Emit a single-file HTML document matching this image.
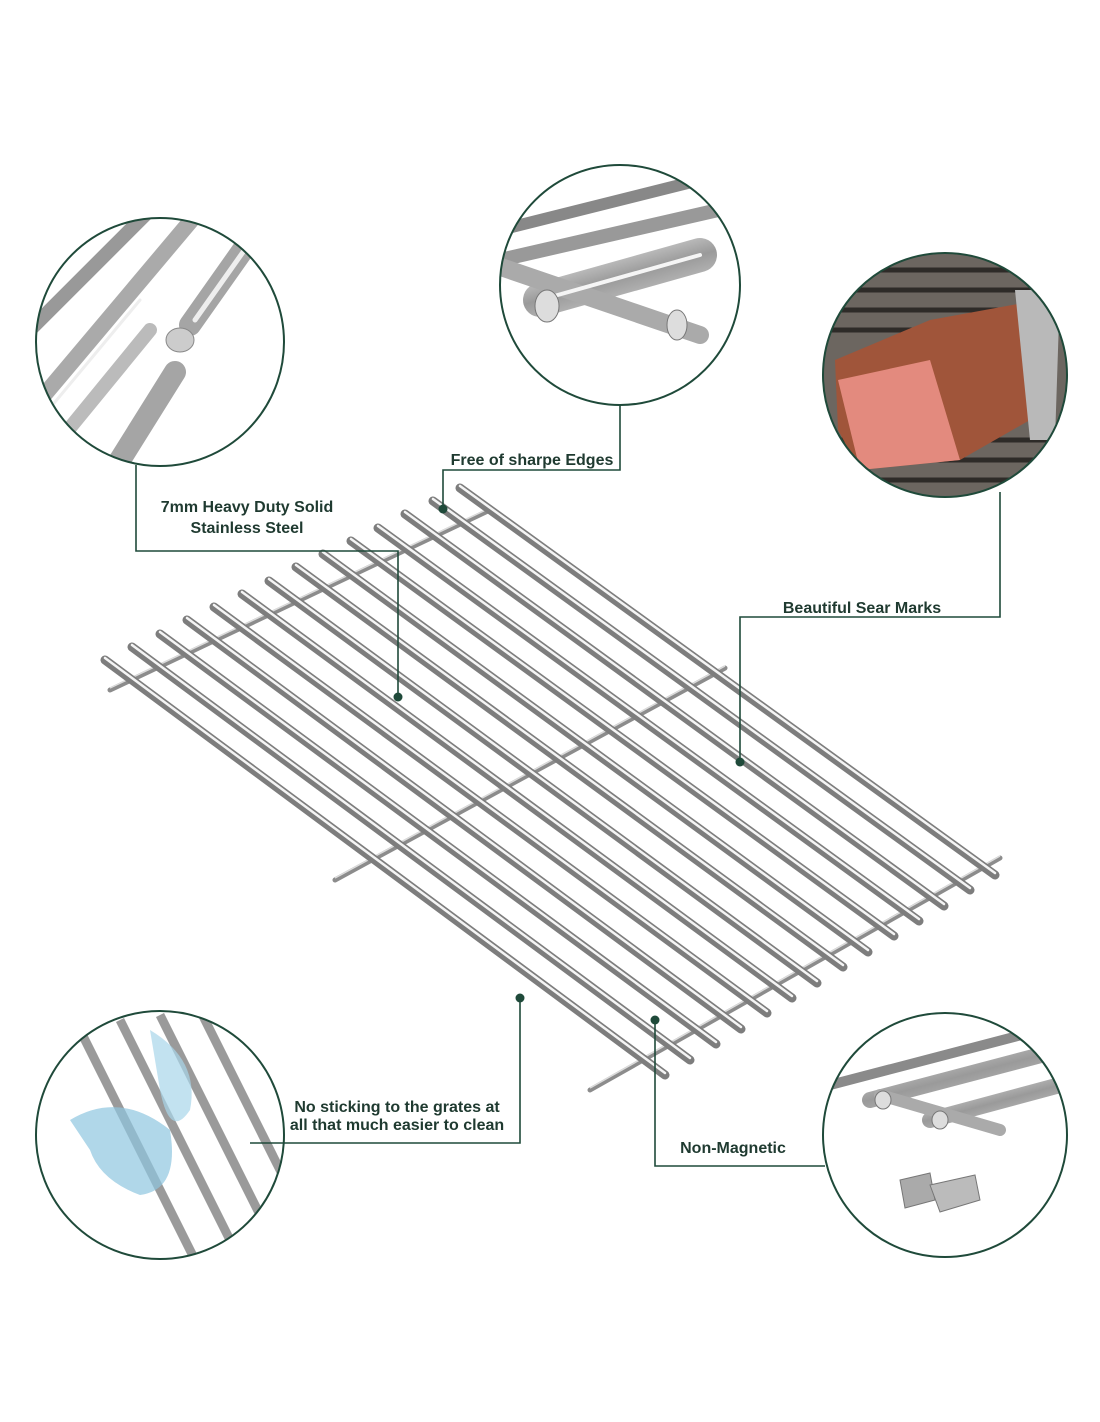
<!DOCTYPE html>
<html><head><meta charset="utf-8"><style>
html,body{margin:0;padding:0;background:#fff;}
svg{display:block}
text{font-family:"Liberation Sans",sans-serif;font-weight:bold;fill:#1f3a30;font-size:16px}
</style></head><body>
<svg width="1100" height="1422" viewBox="0 0 1100 1422" xmlns="http://www.w3.org/2000/svg">
<defs>
<linearGradient id="steel" x1="0" y1="0" x2="1" y2="1">
<stop offset="0" stop-color="#e8e8e8"/><stop offset="0.5" stop-color="#9a9a9a"/><stop offset="1" stop-color="#d0d0d0"/></linearGradient>
<clipPath id="c1"><circle cx="160" cy="342" r="124"/></clipPath>
<clipPath id="c2"><circle cx="620" cy="285" r="120"/></clipPath>
<clipPath id="c3"><circle cx="945" cy="375" r="122"/></clipPath>
<clipPath id="c4"><circle cx="160" cy="1135" r="124"/></clipPath>
<clipPath id="c5"><circle cx="945" cy="1135" r="122"/></clipPath>
</defs>

<!-- cross bars -->
<g stroke="#8c8c8c" stroke-width="5" stroke-linecap="round">
<line x1="110" y1="690" x2="490" y2="510"/>
<line x1="335" y1="880" x2="725" y2="668"/>
<line x1="590" y1="1090" x2="1000" y2="858"/>
</g>
<g stroke="#dcdcdc" stroke-width="1.5">
<line x1="110" y1="688" x2="490" y2="508"/>
<line x1="335" y1="878" x2="725" y2="666"/>
<line x1="590" y1="1088" x2="1000" y2="856"/>
</g>

<!-- rods -->
<g stroke-linecap="round">
<g stroke="#7d7d7d" stroke-width="9">
<line x1="105" y1="660" x2="665" y2="1075"/><line x1="132" y1="647" x2="690" y2="1060"/>
<line x1="160" y1="634" x2="716" y2="1044"/><line x1="187" y1="620" x2="741" y2="1029"/>
<line x1="214" y1="607" x2="767" y2="1013"/><line x1="242" y1="594" x2="792" y2="998"/>
<line x1="269" y1="581" x2="817" y2="983"/><line x1="296" y1="567" x2="843" y2="967"/>
<line x1="323" y1="554" x2="868" y2="952"/><line x1="351" y1="541" x2="894" y2="936"/>
<line x1="378" y1="528" x2="919" y2="921"/><line x1="405" y1="514" x2="944" y2="906"/>
<line x1="433" y1="501" x2="970" y2="890"/><line x1="460" y1="488" x2="995" y2="875"/>
</g>
<g stroke="#f4f4f4" stroke-width="2.5">
<line x1="105" y1="658" x2="665" y2="1073"/><line x1="132" y1="645" x2="690" y2="1058"/>
<line x1="160" y1="632" x2="716" y2="1042"/><line x1="187" y1="618" x2="741" y2="1027"/>
<line x1="214" y1="605" x2="767" y2="1011"/><line x1="242" y1="592" x2="792" y2="996"/>
<line x1="269" y1="579" x2="817" y2="981"/><line x1="296" y1="565" x2="843" y2="965"/>
<line x1="323" y1="552" x2="868" y2="950"/><line x1="351" y1="539" x2="894" y2="934"/>
<line x1="378" y1="526" x2="919" y2="919"/><line x1="405" y1="512" x2="944" y2="904"/>
<line x1="433" y1="499" x2="970" y2="888"/><line x1="460" y1="486" x2="995" y2="873"/>
</g>
</g>

<!-- circle 1: rods -->
<g clip-path="url(#c1)">
<rect x="30" y="210" width="260" height="265" fill="#fff"/>
<g stroke-linecap="round">
<line x1="30" y1="330" x2="160" y2="200" stroke="#999" stroke-width="14"/>
<line x1="40" y1="400" x2="200" y2="210" stroke="#aaa" stroke-width="16"/>
<line x1="60" y1="440" x2="150" y2="330" stroke="#bbb" stroke-width="14"/>
<line x1="190" y1="325" x2="250" y2="240" stroke="#a5a5a5" stroke-width="22"/>
<line x1="120" y1="460" x2="175" y2="372" stroke="#a5a5a5" stroke-width="22"/>
<line x1="40" y1="420" x2="140" y2="300" stroke="#eee" stroke-width="3"/>
<line x1="195" y1="320" x2="248" y2="245" stroke="#eee" stroke-width="5"/>
</g>
<ellipse cx="180" cy="340" rx="14" ry="12" fill="#ccc" stroke="#888"/>
</g>
<circle cx="160" cy="342" r="124" fill="none" stroke="#1f4a3a" stroke-width="2"/>

<!-- circle 2 -->
<g clip-path="url(#c2)">
<rect x="490" y="160" width="260" height="250" fill="#fff"/>
<g stroke-linecap="round">
<line x1="500" y1="230" x2="740" y2="170" stroke="#888" stroke-width="12"/>
<line x1="500" y1="260" x2="740" y2="205" stroke="#999" stroke-width="14"/>
<line x1="540" y1="300" x2="700" y2="255" stroke="url(#steel)" stroke-width="34"/>
<line x1="495" y1="265" x2="700" y2="335" stroke="#aaa" stroke-width="18"/>
<line x1="540" y1="300" x2="700" y2="255" stroke="#f5f5f5" stroke-width="4"/>
</g>
<ellipse cx="547" cy="306" rx="12" ry="16" fill="#ddd" stroke="#777"/>
<ellipse cx="677" cy="325" rx="10" ry="15" fill="#ddd" stroke="#777"/>
</g>
<circle cx="620" cy="285" r="120" fill="none" stroke="#1f4a3a" stroke-width="2"/>

<!-- circle 3: steak -->
<g clip-path="url(#c3)">
<rect x="820" y="250" width="250" height="250" fill="#6c6660"/>
<g stroke="#2e2b28" stroke-width="5">
<line x1="820" y1="270" x2="1070" y2="270"/><line x1="820" y1="290" x2="1070" y2="290"/>
<line x1="820" y1="310" x2="1070" y2="310"/><line x1="820" y1="330" x2="1070" y2="330"/>
<line x1="820" y1="440" x2="1070" y2="440"/><line x1="820" y1="460" x2="1070" y2="460"/>
<line x1="820" y1="480" x2="1070" y2="480"/>
</g>
<path d="M835 360 L930 320 L1040 300 L1030 420 L960 460 L860 470 L838 430 Z" fill="#a0553a"/>
<path d="M838 380 L930 360 L960 460 L860 470 Z" fill="#e38a7e"/>
<path d="M1015 290 L1060 290 L1055 440 L1030 440 Z" fill="#b9b9b9"/>
</g>
<circle cx="945" cy="375" r="122" fill="none" stroke="#1f4a3a" stroke-width="2"/>

<!-- circle 4 -->
<g clip-path="url(#c4)">
<rect x="30" y="1005" width="260" height="265" fill="#fff"/>
<g stroke="#9a9a9a" stroke-width="9">
<line x1="80" y1="1030" x2="200" y2="1270"/><line x1="120" y1="1020" x2="240" y2="1260"/>
<line x1="160" y1="1015" x2="280" y2="1255"/><line x1="200" y1="1010" x2="300" y2="1210"/>
</g>
<path d="M70 1120 Q120 1090 170 1130 Q180 1190 140 1195 Q100 1180 90 1150 Z" fill="#8fc6e0" opacity="0.7"/>
<path d="M150 1030 Q200 1060 190 1110 Q170 1140 160 1090 Z" fill="#a8d5ea" opacity="0.7"/>
</g>
<circle cx="160" cy="1135" r="124" fill="none" stroke="#1f4a3a" stroke-width="2"/>

<!-- circle 5 -->
<g clip-path="url(#c5)">
<rect x="820" y="1010" width="250" height="250" fill="#fff"/>
<g stroke-linecap="round">
<line x1="830" y1="1085" x2="1060" y2="1025" stroke="#8a8a8a" stroke-width="10"/>
<line x1="870" y1="1100" x2="1060" y2="1050" stroke="url(#steel)" stroke-width="16"/>
<line x1="930" y1="1120" x2="1060" y2="1085" stroke="url(#steel)" stroke-width="16"/>
<line x1="880" y1="1095" x2="1000" y2="1130" stroke="#aaa" stroke-width="12"/>
</g>
<ellipse cx="883" cy="1100" rx="8" ry="9" fill="#ddd" stroke="#777"/>
<ellipse cx="940" cy="1120" rx="8" ry="9" fill="#ddd" stroke="#777"/>
<path d="M900 1180 L930 1173 L935 1200 L905 1208 Z" fill="#aaa" stroke="#777"/>
<path d="M930 1185 L975 1175 L980 1200 L940 1212 Z" fill="#bbb" stroke="#777"/>
</g>
<circle cx="945" cy="1135" r="122" fill="none" stroke="#1f4a3a" stroke-width="2"/>

<!-- leaders -->
<g fill="none" stroke="#1f4a3a" stroke-width="1.6">
<polyline points="136,465 136,551 398,551 398,697"/>
<polyline points="620,405 620,470 443,470 443,509"/>
<polyline points="1000,492 1000,617 740,617 740,762"/>
<polyline points="520,998 520,1143 250,1143"/>
<polyline points="655,1020 655,1166 825,1166"/>
</g>
<g fill="#1f4a3a">
<circle cx="398" cy="697" r="4.5"/><circle cx="443" cy="509" r="4.5"/>
<circle cx="740" cy="762" r="4.5"/><circle cx="520" cy="998" r="4.5"/>
<circle cx="655" cy="1020" r="4.5"/>
</g>

<!-- labels -->
<text x="247" y="512" text-anchor="middle">7mm Heavy Duty Solid</text>
<text x="247" y="533" text-anchor="middle">Stainless Steel</text>
<text x="532" y="465" text-anchor="middle" font-size="15">Free of sharpe Edges</text>
<text x="862" y="613" text-anchor="middle">Beautiful Sear Marks</text>
<text x="397" y="1112" text-anchor="middle" font-size="15">No sticking to the grates at</text>
<text x="397" y="1130" text-anchor="middle" font-size="15">all that much easier to clean</text>
<text x="733" y="1153" text-anchor="middle" font-size="15">Non-Magnetic</text>
</svg>
</body></html>
